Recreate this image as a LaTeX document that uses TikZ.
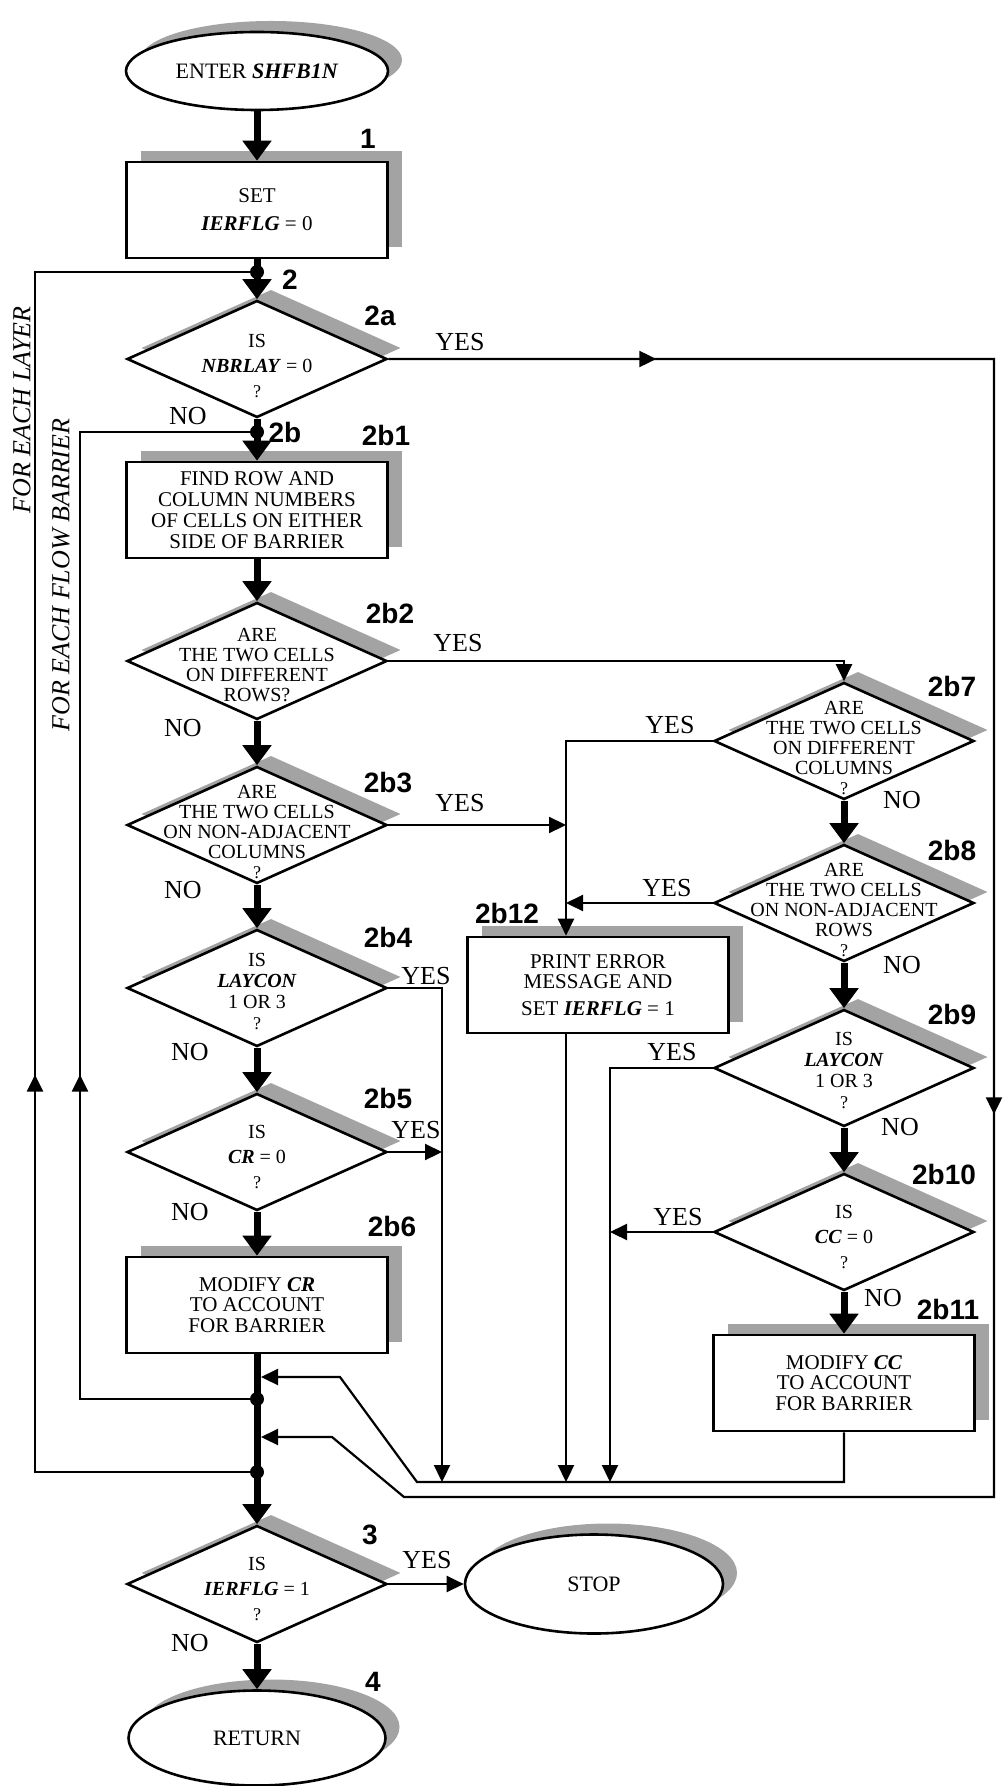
\documentclass[tikz,border=0pt]{standalone}
\usepackage{fontspec}
\setmainfont{Liberation Serif}
\newfontfamily\tagfont{Liberation Sans}
\usetikzlibrary{shapes.geometric, arrows.meta, shadows, decorations.markings}
\definecolor{shadegray}{gray}{0.64}
\newcommand{\vn}[1]{\textbf{\textit{#1}}}
\newcommand{\qm}{{\fontsize{9}{9}\selectfont ?}}

\tikzset{
  dropgray/.style={general shadow={fill=shadegray, shadow xshift=7pt, shadow yshift=5.5pt}},
  proc/.style={rectangle, draw, line width=1.3pt, fill=white, dropgray, minimum width=130.5pt, minimum height=48pt, inner sep=0pt, align=center, font=\fontsize{10.5}{10.4}\selectfont},
  dec/.style={diamond, draw, line width=1.3pt, fill=white, dropgray, minimum width=130pt, minimum height=58.5pt, inner sep=0pt},
  term/.style={ellipse, draw, line width=1.3pt, fill=white, dropgray, inner sep=0pt, font=\fontsize{11}{12}\selectfont},
  qtext/.style={align=center, inner sep=0pt, font=\fontsize{10}{10}\selectfont},
  numlbl/.style={inner sep=0pt, font=\tagfont\bfseries\fontsize{14}{14}\selectfont},
  ans/.style={inner sep=0pt, font=\fontsize{13}{13}\selectfont},
  looptxt/.style={rotate=90, inner sep=0pt, font=\itshape\fontsize{13}{13}\selectfont},
  junct/.style={circle, fill, inner sep=0pt, minimum size=7pt},
  mainflow/.style={line width=3.5pt, -{Triangle[length=10pt,width=14pt]}},
  flow/.style={line width=1.1pt},
  arr/.style={-{Triangle[length=8.5pt,width=8pt]}},
  midarr/.style={postaction={decorate, decoration={markings, mark=at position #1 with {\arrow{Triangle[length=8.5pt,width=8pt]}}}}}
}

\begin{document}
\begin{tikzpicture}[x=0.5pt, y=-0.5pt]
\useasboundingbox (0,0) rectangle (1002,1786);

% Terminals
\node[term, minimum width=131pt, minimum height=39pt] (enter) at (257,71) {ENTER \vn{SHFB1N}};
\node[term, minimum width=129pt, minimum height=49.5pt] (stop) at (594,1584) {STOP};
\node[term, minimum width=128.5pt, minimum height=47.5pt] (ret) at (257,1738) {RETURN};

% Process boxes
\node[proc, font=\fontsize{10.5}{14}\selectfont] (b1) at (257,210) {SET\\\vn{IERFLG} = 0};
\node[proc] (b2b1) at (257,510) {FIND ROW AND\\COLUMN NUMBERS\\OF CELLS ON EITHER\\SIDE OF BARRIER};
\node[proc] (b2b6) at (257,1305) {MODIFY \vn{CR}\\TO ACCOUNT\\FOR BARRIER};
\node[proc] (b2b12) at (598,985) {PRINT ERROR\\MESSAGE AND\\[3pt]SET \vn{IERFLG} = 1};
\node[proc] (b2b11) at (844,1383) {MODIFY \vn{CC}\\TO ACCOUNT\\FOR BARRIER};

% Decisions (shape, then its text)
\node[dec] (q2a) at (257,359) {};
\node[dec] (q2b2) at (257,661) {};
\node[dec] (q2b3) at (257,825) {};
\node[dec] (q2b4) at (257,988) {};
\node[dec] (q2b5) at (257,1152) {};
\node[dec] (q2b7) at (844,741) {};
\node[dec] (q2b8) at (844,903) {};
\node[dec] (q2b9) at (844,1068) {};
\node[dec] (q2b10) at (844,1232) {};
\node[dec] (q3) at (257,1584) {};

\node[qtext, font=\fontsize{10}{12.5}\selectfont] (t2a) at (257,366) {IS\\\vn{NBRLAY} = 0\\\qm};
\node[qtext] (t2b2) at (257,665) {ARE\\THE TWO CELLS\\ON DIFFERENT\\ROWS?};
\node[qtext] (t2b3) at (257,832) {ARE\\THE TWO CELLS\\ON NON-ADJACENT\\COLUMNS\\\qm};
\node[qtext, font=\fontsize{10}{10.5}\selectfont] (t2b4) at (257,991) {IS\\\vn{LAYCON}\\1 OR 3\\\qm};
\node[qtext, font=\fontsize{10}{12.5}\selectfont] (t2b5) at (257,1157) {IS\\\vn{CR} = 0\\\qm};
\node[qtext] (t2b7) at (844,748) {ARE\\THE TWO CELLS\\ON DIFFERENT\\COLUMNS\\\qm};
\node[qtext] (t2b8) at (844,910) {ARE\\THE TWO CELLS\\ON NON-ADJACENT\\ROWS\\\qm};
\node[qtext, font=\fontsize{10}{10.5}\selectfont] (t2b9) at (844,1070) {IS\\\vn{LAYCON}\\1 OR 3\\\qm};
\node[qtext, font=\fontsize{10}{12.5}\selectfont] (t2b10) at (844,1237) {IS\\\vn{CC} = 0\\\qm};
\node[qtext, font=\fontsize{10}{12.5}\selectfont] (t3) at (257,1589) {IS\\\vn{IERFLG} = 1\\\qm};

% Junctions and bus lines
\node[junct] (j2) at (257,272) {};
\node[junct] (j2b) at (257,432) {};
\node[junct] (jbar) at (257,1399) {};
\node[junct] (jlay) at (257,1472) {};
\coordinate (busL1) at (35,0);
\coordinate (busL2) at (80,0);
\coordinate (busB) at (442,0);
\coordinate (busA) at (566,0);
\coordinate (busC) at (610,0);
\coordinate (busR) at (994,0);
\coordinate (botA) at (0,1482);
\coordinate (botB) at (0,1497);
\coordinate (in1) at (261,1377);
\coordinate (in2) at (261,1437);

% Step numbers
\node[numlbl] (n1) at (368,139) {1};
\node[numlbl] (n2) at (290,280) {2};
\node[numlbl] (n2a) at (380,316) {2a};
\node[numlbl] (n2b) at (285,432) {2b};
\node[numlbl] (n2b1) at (386,435) {2b1};
\node[numlbl] (n2b2) at (390,613) {2b2};
\node[numlbl] (n2b3) at (388,783) {2b3};
\node[numlbl] (n2b4) at (388,937) {2b4};
\node[numlbl] (n2b5) at (388,1098) {2b5};
\node[numlbl] (n2b6) at (392,1226) {2b6};
\node[numlbl] (n2b7) at (952,686) {2b7};
\node[numlbl] (n2b8) at (952,850) {2b8};
\node[numlbl] (n2b9) at (952,1014) {2b9};
\node[numlbl] (n2b10) at (944,1174) {2b10};
\node[numlbl] (n2b11) at (948,1309) {2b11};
\node[numlbl] (n2b12) at (507,913) {2b12};
\node[numlbl] (n3) at (370,1535) {3};
\node[numlbl] (n4) at (373,1682) {4};

% Answers
\node[ans] (yes2a) at (460,342) {YES};
\node[ans] (no2a) at (188,416) {NO};
\node[ans] (yes2b2) at (458,643) {YES};
\node[ans] (no2b2) at (183,728) {NO};
\node[ans] (yes2b3) at (460,803) {YES};
\node[ans] (no2b3) at (183,890) {NO};
\node[ans] (yes2b4) at (426,976) {YES};
\node[ans] (no2b4) at (190,1052) {NO};
\node[ans] (yes2b5) at (416,1130) {YES};
\node[ans] (no2b5) at (190,1212) {NO};
\node[ans] (yes2b7) at (670,725) {YES};
\node[ans] (no2b7) at (902,800) {NO};
\node[ans] (yes2b8) at (667,888) {YES};
\node[ans] (no2b8) at (902,965) {NO};
\node[ans] (yes2b9) at (672,1052) {YES};
\node[ans] (no2b9) at (900,1127) {NO};
\node[ans] (yes2b10) at (678,1217) {YES};
\node[ans] (no2b10) at (883,1298) {NO};
\node[ans] (yes3) at (427,1560) {YES};
\node[ans] (no3) at (190,1643) {NO};

% Loop captions
\node[looptxt] (eachlay) at (22,410) {FOR EACH LAYER};
\node[looptxt] (eachbar) at (61,575) {FOR EACH FLOW BARRIER};

% Main stream
\draw[mainflow] (enter) -- (b1);
\draw[mainflow] (b1) -- (q2a);
\draw[mainflow] (q2a) -- (b2b1);
\draw[mainflow] (b2b1) -- (q2b2);
\draw[mainflow] (q2b2) -- (q2b3);
\draw[mainflow] (q2b3) -- (q2b4);
\draw[mainflow] (q2b4) -- (q2b5);
\draw[mainflow] (q2b5) -- (b2b6);
\draw[mainflow] (b2b6) -- (q3);
\draw[mainflow] (q3) -- (ret);
\draw[mainflow] (q2b7) -- (q2b8);
\draw[mainflow] (q2b8) -- (q2b9);
\draw[mainflow] (q2b9) -- (q2b10);
\draw[mainflow] (q2b10) -- (b2b11);

% Side branches
\draw[flow, arr, midarr=134pt, midarr=680.5pt] (q2a.east) -- (q2a.east -| busR) -- (busR |- botB) -- (404,1497) -- (332,1437) -- (in2);
\draw[flow, arr] (q2b2.east) -| (q2b7.north);
\draw[flow, arr] (q2b7.west) -| ([xshift=-16pt]b2b12.north);
\draw[flow, arr] (q2b3.east) -- (q2b3.east -| busA);
\draw[flow, arr] (q2b8.west) -- (q2b8.west -| busA);
\draw[flow, arr] (q2b4.east) -| (busB |- botA);
\draw[flow, arr] (q2b5.east) -- (q2b5.east -| busB);
\draw[flow, arr] ([xshift=-16pt]b2b12.south) -- (busA |- botA);
\draw[flow, arr] (q2b9.west) -| (busC |- botA);
\draw[flow, arr] (q2b10.west) -- (q2b10.west -| busC);
\draw[flow, arr] (b2b11.south) -- (b2b11.south |- botA) -- (417,1482) -- (340,1377) -- (in1);
\draw[flow, arr] (q3.east) -- (stop.west);

% Loops back
\draw[flow, midarr=306pt] (jlay.west) -- (jlay -| busL1) -- (j2 -| busL1) -- (j2.west);
\draw[flow, midarr=247pt] (jbar.west) -- (jbar -| busL2) -- (j2b -| busL2) -- (j2b.west);

\end{tikzpicture}
\end{document}
